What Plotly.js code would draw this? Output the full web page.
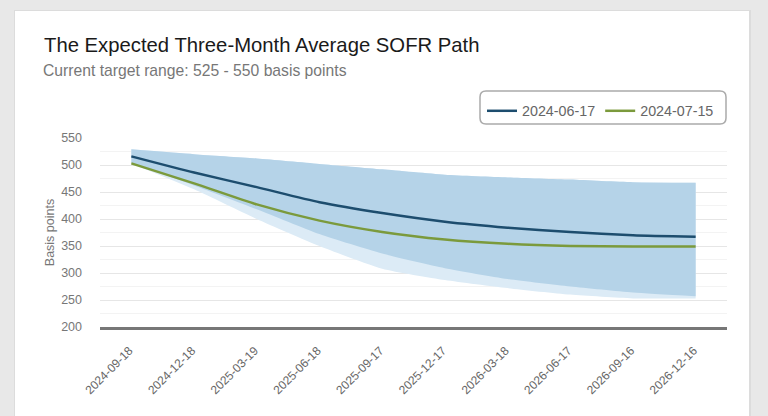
<!DOCTYPE html>
<html>
<head>
<meta charset="utf-8">
<script src="https://cdn.plot.ly/plotly-3.0.1.min.js"></script>
<style>
  html, body { margin: 0; padding: 0; background: #e8e8e8; width: 768px; height: 416px; overflow: hidden; }
  #card { position: absolute; left: 14px; top: 10px; width: 734px; height: 420px; background: #fff; border: 1px solid #dcdcdc; border-right: 2px solid #dcdcdc; }
  #chart { position: absolute; left: 0; top: 0; width: 768px; height: 416px; }
</style>
</head>
<body>
<div id="card"></div>
<div id="chart"></div>
<script>
// ---- data ----
const dates = ["2024-09-18","2024-12-18","2025-03-19","2025-06-18","2025-09-17","2025-12-17","2026-03-18","2026-06-17","2026-09-16","2026-12-16"];
const path0617 = [516, 486, 459, 431, 411, 395, 384, 376, 370, 367];
const path0715 = [503, 466, 427, 397, 376, 362, 354, 350, 349, 349];
const bandUpper = [529, 520, 512, 502, 492, 482, 477, 473, 468, 467];
const bandLower = [504, 462, 418, 372, 336, 309, 289, 275, 264, 257];
const bandLowerLight = [503, 455, 400, 350, 308, 287, 272, 260, 253, 253];
const seriesNames = ["2024-06-17", "2024-07-15"];

// ---- geometry helpers (plot area: x 100..727, y 138..327) ----
const L = 100, R = 727, T = 138, B = 327;
const px = v => (v - L) / (R - L);
const py = v => (B - v) / (B - T);

const bandLine = {width: 0, shape: 'spline', smoothing: 0.6};
const traces = [
  { x: dates, y: bandLowerLight, mode: 'lines', line: bandLine, showlegend: false, hoverinfo: 'skip' },
  { x: dates, y: bandUpper, mode: 'lines', line: bandLine, fill: 'tonexty', fillcolor: '#dcebf6', showlegend: false, hoverinfo: 'skip' },
  { x: dates, y: bandLower, mode: 'lines', line: bandLine, showlegend: false, hoverinfo: 'skip' },
  { x: dates, y: bandUpper, mode: 'lines', line: bandLine, fill: 'tonexty', fillcolor: '#b5d3e8', showlegend: false, hoverinfo: 'skip' },
  { x: dates, y: path0617, name: seriesNames[0], mode: 'lines', line: {color: '#1d4d6e', width: 2.5, shape: 'spline', smoothing: 0.6} },
  { x: dates, y: path0715, name: seriesNames[1], mode: 'lines', line: {color: '#7b9a3c', width: 2.5, shape: 'spline', smoothing: 0.6} }
];

// rounded legend box
const bx0 = 480, bx1 = 726, by0 = 91, by1 = 124, r = 6;
const boxPath = [
  `M ${px(bx0 + r)} ${py(by0)}`,
  `L ${px(bx1 - r)} ${py(by0)}`,
  `Q ${px(bx1)} ${py(by0)} ${px(bx1)} ${py(by0 + r)}`,
  `L ${px(bx1)} ${py(by1 - r)}`,
  `Q ${px(bx1)} ${py(by1)} ${px(bx1 - r)} ${py(by1)}`,
  `L ${px(bx0 + r)} ${py(by1)}`,
  `Q ${px(bx0)} ${py(by1)} ${px(bx0)} ${py(by1 - r)}`,
  `L ${px(bx0)} ${py(by0 + r)}`,
  `Q ${px(bx0)} ${py(by0)} ${px(bx0 + r)} ${py(by0)} Z`
].join(' ');

const layout = {
  width: 768, height: 416,
  margin: {l: L, r: 768 - R, t: T, b: 416 - B, pad: 0},
  paper_bgcolor: 'rgba(0,0,0,0)',
  plot_bgcolor: 'rgba(0,0,0,0)',
  font: {family: 'Liberation Sans, Arial, sans-serif', color: '#666'},
  title: {
    text: 'The Expected Three-Month Average SOFR Path',
    x: 44 / 768, xanchor: 'left', xref: 'container',
    y: 1 - 45 / 416, yanchor: 'middle', yref: 'container',
    font: {family: 'Liberation Sans, Arial', size: 20.3, color: '#1a1a1a'}
  },
  annotations: [{
    text: 'Current target range: 525 - 550 basis points',
    xref: 'paper', yref: 'paper', x: px(41), y: py(70), xanchor: 'left', yanchor: 'middle',
    showarrow: false,
    font: {family: 'Liberation Sans, Arial', size: 15.7, color: '#777'}
  }],
  showlegend: true,
  legend: {
    orientation: 'h', traceorder: 'normal', x: px(482), y: py(95), xanchor: 'left', yanchor: 'top',
    bgcolor: 'rgba(0,0,0,0)', borderwidth: 0,
    font: {size: 14.3, color: '#666'}, itemwidth: 30, tracegroupgap: 0
  },
  shapes: [{
    type: 'path', xref: 'paper', yref: 'paper', path: boxPath,
    line: {color: '#aaaaaa', width: 1.5}, fillcolor: 'rgba(0,0,0,0)'
  }],
  xaxis: {
    type: 'category', range: [-0.5, 9.5],
    tickangle: -45, tickfont: {size: 12, color: '#666'},
    ticklabelstandoff: 9, ticklabelshift: -2,
    showgrid: false, zeroline: false,
    showline: true, linecolor: '#777', linewidth: 3,
    ticks: '', fixedrange: true
  },
  yaxis: {
    range: [200, 550], dtick: 50, tick0: 200,
    tickfont: {size: 12.5, color: '#777'},
    showgrid: true, gridcolor: '#e6e6e6', gridwidth: 1,
    minor: {dtick: 25, showgrid: true, gridcolor: '#f3f3f3', gridwidth: 1},
    zeroline: false, ticks: '', ticklabelstandoff: 17,
    title: {text: 'Basis points', font: {size: 12.5, color: '#777'}, standoff: 3},
    fixedrange: true
  }
};

Plotly.newPlot('chart', traces, layout, {displayModeBar: false, staticPlot: true});
</script>
</body>
</html>
